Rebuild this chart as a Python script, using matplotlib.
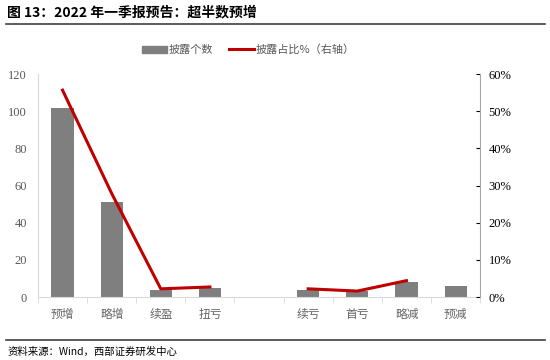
import numpy as np
import matplotlib.pyplot as plt
from matplotlib.lines import Line2D
from matplotlib.patches import Patch

plt.rcParams['font.family'] = ['Liberation Serif', 'Noto Sans CJK SC', 'DejaVu Sans']

categories = ['预增', '略增', '续盈', '扭亏', '', '续亏', '首亏', '略减', '预减']
counts = [102, 51, 4, 5, np.nan, 4, 3, 8, 6]
share = [55.7, 27.9, 2.2, 2.7, np.nan, 2.2, 1.6, 4.4, np.nan]

cjk = ['Noto Sans CJK SC', 'DejaVu Sans']
grey_txt = '#595959'

fig = plt.figure(figsize=(5.5, 3.6), dpi=100)
ax = fig.add_axes([0.069, 0.175, 0.804, 0.619])
ax2 = ax.twinx()

x = np.arange(len(categories))
ax.bar(x, counts, width=0.45, color='#7f7f7f', zorder=2)
ax2.plot(x, share, color='#c00000', lw=2.2, zorder=3)

ax.set_xlim(-0.5, len(categories) - 0.5)
ax.set_ylim(0, 120)
ax.set_yticks(np.arange(0, 121, 20))
ax2.set_ylim(0, 60)
ax2.set_yticks(np.arange(0, 61, 10))
ax2.set_yticklabels([f'{v}%' for v in range(0, 61, 10)])

ax.set_xticks(x)
ax.set_xticklabels(categories, family=cjk, fontsize=8.5, color='#666666')
ax.set_xticks(np.arange(-0.5, len(categories)), minor=True)
ax.tick_params(axis='x', which='major', length=0, pad=8)
ax.tick_params(axis='x', which='minor', length=4, color='#d9d9d9')
ax.tick_params(axis='y', length=0, labelsize=9, colors=grey_txt, pad=8)
ax2.tick_params(axis='y', length=3, direction='in', labelsize=9, colors='black', pad=6)

for a in (ax, ax2):
    a.spines['top'].set_visible(False)
ax.spines['left'].set_color('#d9d9d9')
ax.spines['bottom'].set_color('#d9d9d9')
ax.spines['right'].set_visible(False)
ax2.spines['left'].set_visible(False)
ax2.spines['bottom'].set_visible(False)
ax2.spines['right'].set_color('#a6a6a6')

handles = [Patch(color='#7f7f7f'), Line2D([], [], color='#c00000', lw=2.2)]
fig.legend(handles, ['披露个数', '披露占比%（右轴）'], loc='center', bbox_to_anchor=(0.452, 0.862),
           ncol=2, frameon=False, prop={'family': cjk, 'size': 8}, handlelength=2.2,
           handleheight=0.6, columnspacing=1.4, handletextpad=0.2, labelcolor=grey_txt)

# title, rules and source
fig.text(0.013, 0.965, '图 13：2022 年一季报预告：超半数预增', family=cjk, fontsize=10,
         fontweight='bold', va='center', ha='left')
fig.add_artist(Line2D([0.01, 0.99], [0.932, 0.932], color='#404040', lw=1.2))
fig.add_artist(Line2D([0.01, 0.99], [0.055, 0.055], color='#404040', lw=1.2))
fig.text(0.013, 0.022, '资料来源：Wind，西部证券研发中心', family=cjk, fontsize=7.5,
         va='center', ha='left')

fig.savefig('out.png', dpi=100)
